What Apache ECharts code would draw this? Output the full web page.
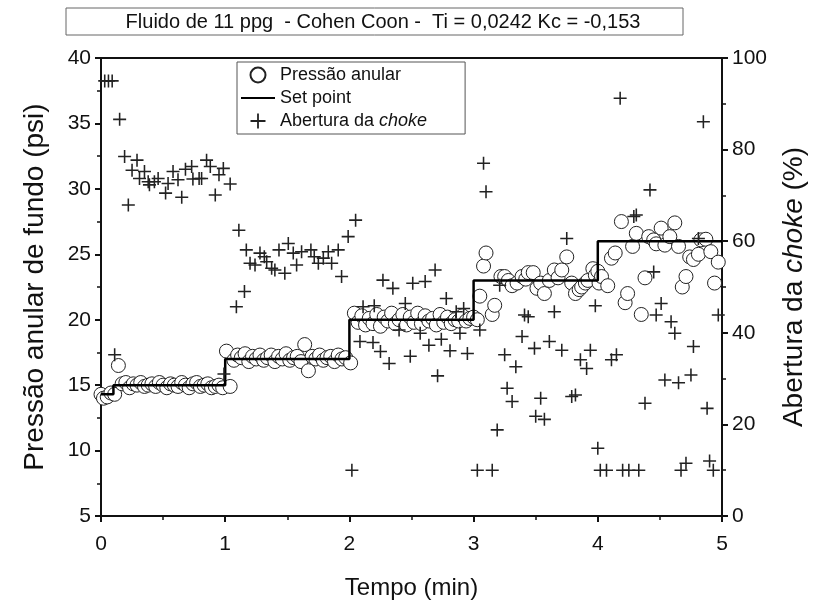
<!DOCTYPE html>
<html>
<head>
<meta charset="utf-8">
<script src="https://cdn.jsdelivr.net/npm/echarts@6/dist/echarts.min.js"></script>
<style>
  html, body { margin: 0; padding: 0; background: #fff; }
  #chart { width: 827px; height: 611px; }
</style>
</head>
<body>
<div id="chart"></div>
<script>
// pressão anular medida (psi)
const tempoP = [
  0, 0.02, 0.05, 0.08, 0.11, 0.14, 0.17, 0.2, 0.23, 0.26, 0.29, 0.32, 0.35, 0.38, 0.41, 0.44, 0.47,
  0.5, 0.53, 0.56, 0.59, 0.62, 0.65, 0.68, 0.71, 0.74, 0.77, 0.8, 0.83, 0.86, 0.89, 0.92, 0.95, 0.98,
  1.01, 1.04, 1.07, 1.1, 1.13, 1.16, 1.19, 1.22, 1.25, 1.28, 1.31, 1.34, 1.37, 1.4, 1.43, 1.46, 1.49,
  1.52, 1.55, 1.58, 1.61, 1.64, 1.67, 1.7, 1.73, 1.76, 1.79, 1.82, 1.85, 1.88, 1.91, 1.94, 1.97,
  2.01, 2.04, 2.07, 2.1, 2.13, 2.16, 2.19, 2.22, 2.25, 2.28, 2.31, 2.34, 2.37, 2.4, 2.43, 2.46, 2.49,
  2.52, 2.55, 2.58, 2.61, 2.64, 2.67, 2.7, 2.73, 2.76, 2.79, 2.82, 2.85, 2.88, 2.91, 2.94, 2.97,
  3.0, 3.03, 3.05, 3.08, 3.1, 3.15, 3.17, 3.22, 3.25, 3.28, 3.31, 3.35, 3.39, 3.42, 3.44, 3.48, 3.51,
  3.54, 3.57, 3.61, 3.65, 3.68, 3.71, 3.75, 3.79, 3.82, 3.85, 3.87, 3.9, 3.92, 3.96, 3.98,
  4.0, 4.01, 4.03, 4.08, 4.11, 4.14, 4.19, 4.22, 4.24, 4.28, 4.31, 4.35, 4.38, 4.41, 4.45, 4.47, 4.51,
  4.54, 4.58, 4.62, 4.65, 4.68, 4.71, 4.74, 4.77, 4.81, 4.83, 4.87, 4.91, 4.94, 4.97
]
const pressao = [
  14.3, 14.0, 14.1, 14.4, 14.3, 16.5, 15.1, 15.2, 14.8, 15.1, 15.0, 15.2, 14.9, 15.0, 15.1, 14.9, 15.2,
  15.0, 14.8, 15.1, 15.0, 14.9, 15.2, 15.0, 14.8, 15.1, 15.2, 14.9, 15.0, 15.1, 14.8, 14.9, 15.0, 14.8,
  17.6, 14.9, 16.9, 17.3, 17.1, 17.4, 16.8, 17.2, 17.0, 17.3, 16.9, 17.1, 17.3, 16.8, 17.2, 17.0, 17.4,
  16.9, 17.1, 17.2, 16.8, 18.1, 16.1, 17.2, 17.0, 17.3, 16.9, 17.1, 17.2, 16.8, 17.3, 17.0, 17.1,
  16.7, 20.5, 19.8, 20.3, 19.6, 20.1, 19.7, 20.4, 19.5, 20.2, 19.9, 20.5, 19.7, 20.0, 20.4, 19.6, 20.2,
  19.8, 20.5, 19.7, 20.3, 19.9, 20.1, 19.6, 20.4, 19.8, 20.2, 19.7, 20.0, 19.9, 20.3, 19.9, 20.1,
  20.2, 20.0, 21.8, 24.1, 25.1, 20.4, 21.1, 23.3, 23.3, 23.0, 22.6, 22.8, 23.3, 23.1, 23.6, 23.6, 22.4,
  22.8, 22.0, 23.0, 23.8, 23.2, 23.8, 24.8, 22.8, 22.0, 22.3, 22.5, 22.8, 23.0, 23.9, 23.4,
  23.7, 22.8, 23.3, 22.6, 24.7, 25.1, 27.5, 21.3, 22.0, 25.6, 26.6, 20.4, 23.2, 26.35, 26.1, 25.8, 27.0,
  25.7, 26.35, 27.4, 25.6, 22.5, 23.3, 24.8, 24.6, 25.0, 26.1, 26.15, 25.2, 22.8, 24.4
]

// set point (psi)
const tempoSet = [0, 0.1, 0.1, 1, 1, 2, 2, 3, 3, 4, 4, 5]
const setPoint = [14.3, 14.3, 15, 15, 17, 17, 20, 20, 23, 23, 26, 26]

// abertura da choke (%)
const tempoC = [
  0.03, 0.06, 0.09, 0.11, 0.15, 0.19, 0.22, 0.25, 0.29, 0.31, 0.35, 0.38, 0.39, 0.43, 0.46, 0.52, 0.54,
  0.58, 0.62, 0.65, 0.68, 0.73, 0.74, 0.79, 0.81, 0.85, 0.88, 0.92, 0.95, 0.985, 0.99,
  1.04, 1.09, 1.11, 1.155, 1.17, 1.2, 1.24, 1.28, 1.315, 1.334, 1.374, 1.4, 1.433, 1.48, 1.508, 1.548,
  1.575, 1.615, 1.69, 1.717, 1.75, 1.79, 1.83, 1.857, 1.91, 1.937, 1.99, 2.02, 2.05,
  2.085, 2.11, 2.19, 2.2, 2.25, 2.27, 2.32, 2.35, 2.4, 2.45, 2.49, 2.51, 2.57, 2.61, 2.64, 2.69, 2.71,
  2.74, 2.78, 2.81, 2.86, 2.89, 2.92, 2.95,
  3.03, 3.05, 3.08, 3.1, 3.15, 3.19, 3.21, 3.25, 3.27, 3.31, 3.34, 3.39, 3.41, 3.44, 3.49, 3.5, 3.54,
  3.57, 3.61, 3.65, 3.71, 3.75, 3.79, 3.82, 3.86, 3.91, 3.94, 3.98, 4.0,
  4.02, 4.07, 4.11, 4.15, 4.18, 4.2, 4.25, 4.29, 4.31, 4.33, 4.38, 4.42, 4.45, 4.47, 4.51, 4.54, 4.59,
  4.62, 4.65, 4.67, 4.71, 4.75, 4.77, 4.81, 4.85, 4.88, 4.9, 4.93, 4.97
]
const abertura = [
  95, 95, 95, 35.2, 86.6, 78.5, 67.9, 75.5, 77.7, 73.7, 75.2, 73.0, 72.3, 73.0, 73.7, 70.5, 72.6,
  75.2, 73.4, 69.6, 75.7, 76.3, 73.6, 73.7, 73.7, 77.7, 76.3, 70.1, 74.5, 75.9, 31,
  72.5, 45.7, 62.4, 49, 58.1, 55.2, 54.8, 57.4, 56.6, 55.5, 54.1, 53.7, 58.1, 53, 59.5, 57.4,
  54.8, 57.7, 58.1, 56.6, 55.2, 56.3, 57.7, 55.2, 58.1, 52.3, 61.0, 10, 64.6,
  38.1, 45.7, 37.9, 45.9, 35.9, 51.5, 33.3, 49.7, 40.6, 46.4, 34.9, 50.8, 39.9, 51.2, 37.3, 53.7, 30.6,
  38.6, 47.5, 36.1, 44.6, 39.9, 45.3, 35.5,
  10, 40.6, 77, 70.8, 10, 18.8, 50.4, 35.2, 27.9, 25, 32.6, 39.2, 43.9, 43.5, 36.6, 21.8, 25.7,
  21.1, 38.1, 44.6, 36.2, 60.6, 26.1, 26.4, 34.1, 32.2, 36.2, 45.9, 14.8,
  10, 10, 34.1, 35.2, 91.2, 10, 10, 65.4, 65.7, 10, 24.6, 71.2, 53.3, 43.9, 46.4, 29.7, 42.4,
  39.9, 29.1, 10, 11.5, 30.8, 37.0, 60.6, 86.1, 23.5, 12, 10, 43.9
]

const tituloTexto = 'Fluido de 11 ppg  - Cohen Coon -  Ti = 0,0242 Kc = -0,153'

const zip = (xs, ys) => xs.map((x, i) => [x, ys[i]])
const plus = 'path://M4.4,0H5.6V4.4H10V5.6H5.6V10H4.4V5.6H0V4.4H4.4Z'
const fonte = 'Arial, "Liberation Sans", sans-serif'

const eixo = {
  axisLine: { show: true, lineStyle: { color: '#111', width: 2 } },
  axisTick: { show: true, length: 6, lineStyle: { width: 2, color: '#111' } },
  minorTick: { show: true, splitNumber: 2, length: 4, lineStyle: { width: 1.5, color: '#111' } },
  splitLine: { show: false }
}

const chart = echarts.init(document.getElementById('chart'))
const option = {
  backgroundColor: '#fff',
  animation: false,
  textStyle: { fontFamily: fonte, color: '#111' },
  grid: {
    left: 101, right: 105, top: 58, bottom: 95,
    show: true, borderColor: '#111', borderWidth: 2
  },
  graphic: [
    {
      type: 'rect',
      shape: { x: 66, y: 8, width: 617, height: 27 },
      style: { fill: '#fff', stroke: '#666', lineWidth: 1 }
    },
    {
      type: 'text',
      x: 383, y: 22,
      style: {
        text: tituloTexto, fill: '#111', font: '20px ' + fonte,
        align: 'center', verticalAlign: 'middle'
      }
    }
  ],
  legend: {
    left: 237, top: 62, orient: 'vertical',
    borderColor: '#555', borderWidth: 1, padding: [4, 38, 4, 3],
    itemGap: 5, itemWidth: 34, itemHeight: 15,
    backgroundColor: '#fff',
    textStyle: {
      fontSize: 18, color: '#111', fontFamily: fonte,
      rich: { i: { fontStyle: 'italic', fontSize: 18, fontFamily: fonte } }
    },
    formatter: name => name === 'Abertura da choke' ? 'Abertura da {i|choke}' : name,
    data: [
      'Pressão anular',
      { name: 'Set point', itemStyle: { opacity: 0 } },
      'Abertura da choke'
    ]
  },
  xAxis: Object.assign({}, eixo, {
    type: 'value', min: 0, max: 5, interval: 1,
    name: 'Tempo (min)', nameLocation: 'middle', nameGap: 60,
    nameTextStyle: { fontSize: 24, color: '#111' },
    axisLabel: { fontSize: 21, color: '#111', margin: 18 }
  }),
  yAxis: [
    Object.assign({}, eixo, {
      type: 'value', min: 5, max: 40, interval: 5,
      name: 'Pressão anular de fundo (psi)', nameLocation: 'middle', nameGap: 52,
      nameTextStyle: { fontSize: 28, color: '#111' },
      axisLabel: { fontSize: 21, color: '#111', margin: 10 }
    }),
    Object.assign({}, eixo, {
      type: 'value', min: 0, max: 100, interval: 20, position: 'right',
      name: 'Abertura da {i|choke} (%)', nameLocation: 'middle', nameGap: 58,
      nameRotate: 90,
      nameTextStyle: {
        fontSize: 28, color: '#111',
        rich: { i: { fontStyle: 'italic', fontSize: 28, color: '#111', fontFamily: fonte } }
      },
      axisLabel: { fontSize: 21, color: '#111', margin: 10 }
    })
  ],
  series: [
    {
      name: 'Pressão anular', type: 'scatter', yAxisIndex: 0, z: 2,
      symbol: 'circle', symbolSize: 14,
      itemStyle: { color: '#fff', borderColor: '#222', borderWidth: 1, opacity: 1 },
      data: zip(tempoP, pressao)
    },
    {
      name: 'Set point', type: 'line', yAxisIndex: 0, z: 3,
      symbol: 'none', lineStyle: { color: '#000', width: 2.5 },
      itemStyle: { color: '#000' },
      data: zip(tempoSet, setPoint)
    },
    {
      name: 'Abertura da choke', type: 'scatter', yAxisIndex: 1, z: 4,
      symbol: plus, symbolSize: 13,
      itemStyle: { color: '#222', opacity: 1 },
      data: zip(tempoC, abertura)
    }
  ]
}
chart.setOption(option)
</script>
</body>
</html>
